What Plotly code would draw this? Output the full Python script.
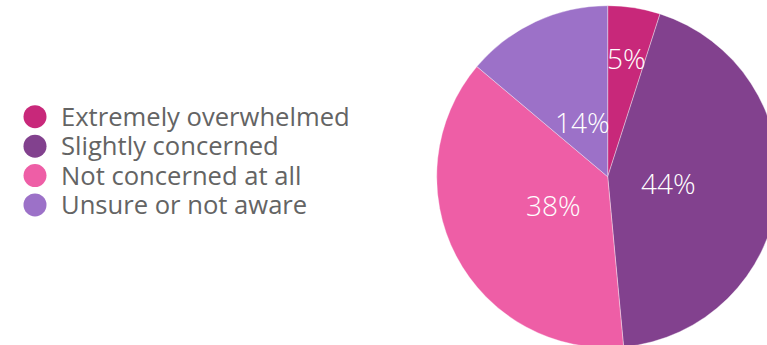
import math
import plotly.graph_objects as go

# Survey response shares (percent)
categories = ["Extremely overwhelmed", "Slightly concerned", "Not concerned at all", "Unsure or not aware"]
shares = [5, 44, 38, 14]
colors = ["#C8287A", "#82418E", "#EE5EA6", "#9C71C8"]

# Canvas is slightly larger than the viewport so the pie bleeds off the right edge
W, H = 780, 348
cx, cy, r = 607.7, 176.7, 171  # pie centre / radius in px (from top-left)

fig = go.Figure()

fig.add_trace(go.Pie(
    labels=categories,
    values=shares,
    marker=dict(colors=colors, line=dict(color="rgba(255,255,255,0.6)", width=0.6)),
    sort=False,
    direction="clockwise",
    rotation=0,
    textinfo="none",
    showlegend=False,
    hoverinfo="label+value",
    domain=dict(
        x=[(cx - r) / W, (cx + r) / W],
        y=[(H - (cy + r)) / H, (H - (cy - r)) / H],
    ),
))

# Percentage labels placed at each slice's mid-angle; thin slices get their
# label pushed further out toward the rim
total = sum(shares)
cum = 0
for v in shares:
    mid = (cum + v / 2) / total * 2 * math.pi
    cum += v
    rr = r * (0.70 if v < 10 else 0.355)
    px = cx + rr * math.sin(mid)
    py = cy - rr * math.cos(mid)
    fig.add_annotation(
        x=px / W, y=1 - py / H, xref="paper", yref="paper",
        text=f"{v}%", showarrow=False, xanchor="center", yanchor="middle",
        font=dict(family="Open Sans", size=28, color="white", weight=300),
    )

# Custom legend: round swatches with labels, one row per category
idx = list(range(len(categories)))
fig.add_trace(go.Scatter(
    x=[0] * len(categories), y=idx, mode="markers",
    marker=dict(size=23, color=colors, line=dict(width=0)),
    hoverinfo="skip", showlegend=False,
))
fig.add_trace(go.Scatter(
    x=[26] * len(categories), y=[i + 0.1 for i in idx], mode="text",
    text=categories, textposition="middle right",
    textfont=dict(family="Open Sans", size=25.6, color="#646464"),
    hoverinfo="skip", showlegend=False,
))

row_px = 29.43
top = -116.7 / row_px
span = H / row_px
fig.update_layout(
    width=W, height=H,
    margin=dict(l=0, r=0, t=0, b=0),
    paper_bgcolor="white", plot_bgcolor="rgba(0,0,0,0)",
    xaxis=dict(range=[-35, W - 35], visible=False, fixedrange=True),
    yaxis=dict(range=[top + span, top], visible=False, fixedrange=True),
)

fig.write_html(
    "out.html",
    post_script="document.body.style.margin='0';document.body.style.overflow='hidden';",
)
